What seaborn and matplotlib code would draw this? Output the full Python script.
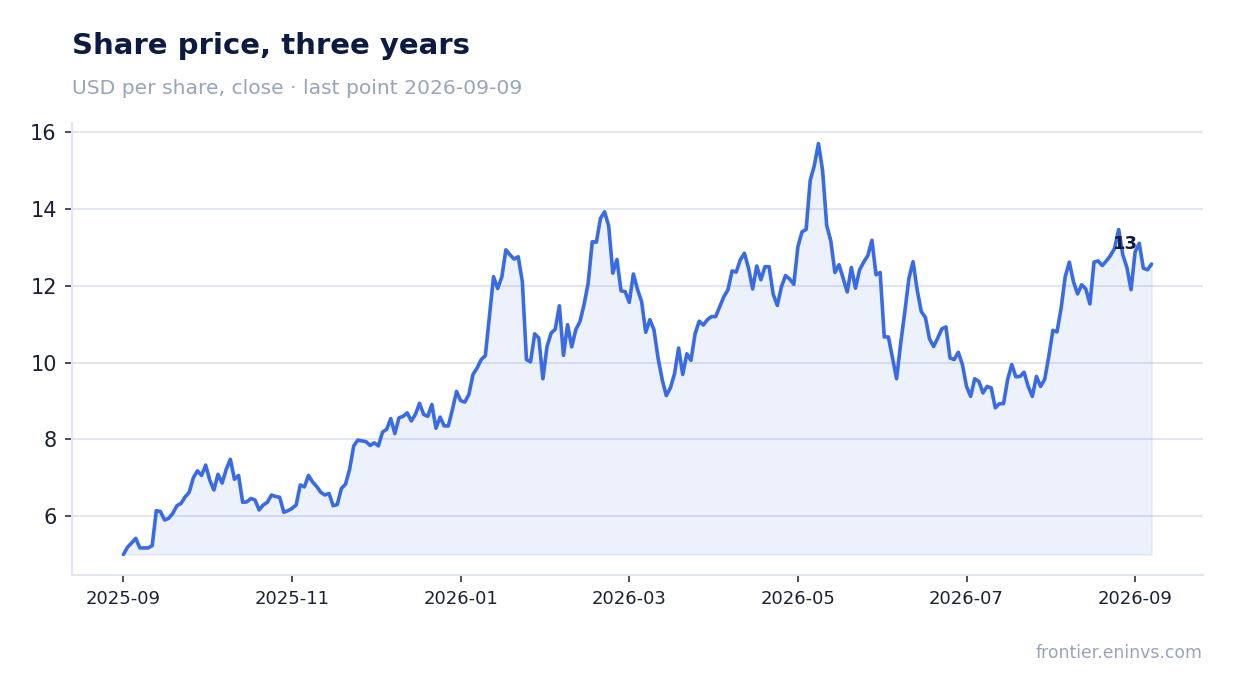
import numpy as np
import pandas as pd
import matplotlib
matplotlib.use("Agg")
import matplotlib.pyplot as plt
import seaborn as sns

# ---- data ----
prices = [
    5.00, 5.19, 5.30, 5.42, 5.17, 5.17, 5.17, 5.23, 6.14, 6.12,
    5.90, 5.94, 6.07, 6.27, 6.33, 6.50, 6.62, 7.00, 7.18, 7.06,
    7.33, 6.94, 6.68, 7.09, 6.86, 7.22, 7.48, 6.96, 7.06, 6.36,
    6.37, 6.46, 6.42, 6.16, 6.29, 6.36, 6.55, 6.51, 6.49, 6.10,
    6.14, 6.20, 6.29, 6.81, 6.76, 7.06, 6.89, 6.77, 6.62, 6.55,
    6.59, 6.27, 6.30, 6.72, 6.83, 7.22, 7.83, 7.98, 7.96, 7.94,
    7.84, 7.91, 7.83, 8.19, 8.26, 8.54, 8.15, 8.56, 8.60, 8.69,
    8.48, 8.65, 8.94, 8.65, 8.60, 8.91, 8.29, 8.58, 8.35, 8.35,
    8.78, 9.25, 9.01, 8.97, 9.17, 9.69, 9.86, 10.08, 10.18, 11.20,
    12.24, 11.93, 12.23, 12.94, 12.81, 12.70, 12.76, 12.11, 10.08, 10.02,
    10.75, 10.64, 9.58, 10.42, 10.77, 10.87, 11.48, 10.19, 10.99, 10.41,
    10.86, 11.07, 11.51, 12.07, 13.15, 13.14, 13.76, 13.93, 13.56, 12.33,
    12.69, 11.87, 11.85, 11.57, 12.31, 11.91, 11.59, 10.79, 11.12, 10.86,
    10.12, 9.56, 9.14, 9.34, 9.71, 10.38, 9.69, 10.23, 10.06, 10.75,
    11.08, 10.98, 11.12, 11.20, 11.20, 11.46, 11.72, 11.90, 12.39, 12.36,
    12.68, 12.85, 12.46, 11.92, 12.52, 12.16, 12.50, 12.50, 11.78, 11.49,
    11.98, 12.27, 12.18, 12.04, 13.02, 13.41, 13.47, 14.75, 15.14, 15.71,
    15.01, 13.58, 13.17, 12.35, 12.55, 12.20, 11.84, 12.48, 11.94, 12.42,
    12.62, 12.79, 13.19, 12.29, 12.35, 10.67, 10.67, 10.12, 9.58, 10.51,
    11.33, 12.20, 12.63, 11.90, 11.33, 11.18, 10.62, 10.42, 10.64, 10.88,
    10.93, 10.12, 10.08, 10.27, 9.95, 9.38, 9.12, 9.58, 9.51, 9.21,
    9.38, 9.34, 8.82, 8.93, 8.93, 9.56, 9.95, 9.63, 9.64, 9.75,
    9.38, 9.12, 9.64, 9.38, 9.56, 10.16, 10.84, 10.80, 11.42, 12.24,
    12.62, 12.11, 11.79, 12.03, 11.92, 11.53, 12.62, 12.65, 12.53, 12.65,
    12.79, 12.98, 13.47, 12.81, 12.48, 11.90, 12.89, 13.11, 12.46, 12.42,
    12.57,
]
x_tick_labels = ["2025-09", "2025-11", "2026-01", "2026-03", "2026-05", "2026-07", "2026-09"]
x_tick_step = 41  # samples between labelled months
y_ticks = [6, 8, 10, 12, 14, 16]

title = "Share price, three years"
subtitle = "USD per share, close \u00b7 last point 2026-09-09"
footer = "frontier.eninvs.com"

df = pd.DataFrame({"t": np.arange(len(prices)), "price": prices})

# ---- style ----
sns.set_theme(style="white")
plt.rcParams["font.family"] = ["DejaVu Sans"]

LINE = "#3a6be6"
FILL = "#3a6be6"
GRID = "#e1e6f0"
SPINE = "#e2e7ef"
DARK = "#1b2135"
NAVY = "#0d1b42"
MUTED = "#98a5ba"

fig = plt.figure(figsize=(12.34, 6.93), dpi=100)
ax = fig.add_axes([72 / 1234, 1 - 575 / 693, (1203 - 72) / 1234, (575 - 123) / 693])

ax.fill_between(df["t"], df["price"], min(prices), color=FILL, alpha=0.09,
                linewidth=1.2, edgecolor=(0.23, 0.42, 0.9, 0.06), zorder=1)
sns.lineplot(data=df, x="t", y="price", ax=ax, color=LINE, linewidth=2.6, zorder=3)

ax.set_xlabel("")
ax.set_ylabel("")
ax.set_yticks(y_ticks)
ax.set_xticks([i * x_tick_step for i in range(len(x_tick_labels))])
ax.set_xticklabels(x_tick_labels)
ax.margins(x=0.05, y=0.05)

ax.grid(axis="y", color=GRID, linewidth=1.4, zorder=0)
ax.grid(axis="x", visible=False)
for side in ["top", "right"]:
    ax.spines[side].set_visible(False)
for side in ["left", "bottom"]:
    ax.spines[side].set_color(SPINE)
    ax.spines[side].set_linewidth(1.5)

ax.tick_params(axis="y", which="major", length=5, width=1.3, color="#3a3f4f",
               labelsize=15, labelcolor=DARK, pad=6, left=True)
ax.tick_params(axis="x", which="major", length=5, width=1.3, color="#3a3f4f",
               labelsize=13, labelcolor=DARK, pad=6, bottom=True)

# last value label
ax.annotate(f"{prices[-1]:.0f}", xy=(df["t"].iloc[-1], prices[-1]),
            xytext=(-19, 14.5), textcoords="offset points",
            ha="center", va="center", fontsize=13, fontweight="bold",
            color=NAVY, zorder=5)

fig.text(72 / 1234, 1 - 53.5 / 693, title, fontsize=21, fontweight="bold",
         color=NAVY, ha="left", va="baseline")
fig.text(72 / 1234, 1 - 93.5 / 693, subtitle, fontsize=14.6, color=MUTED,
         ha="left", va="baseline")
fig.text(1203 / 1234, 1 - 658 / 693, footer, fontsize=12.4, color=MUTED,
         ha="right", va="baseline")

fig.savefig("out.png", dpi=100, facecolor="white")
